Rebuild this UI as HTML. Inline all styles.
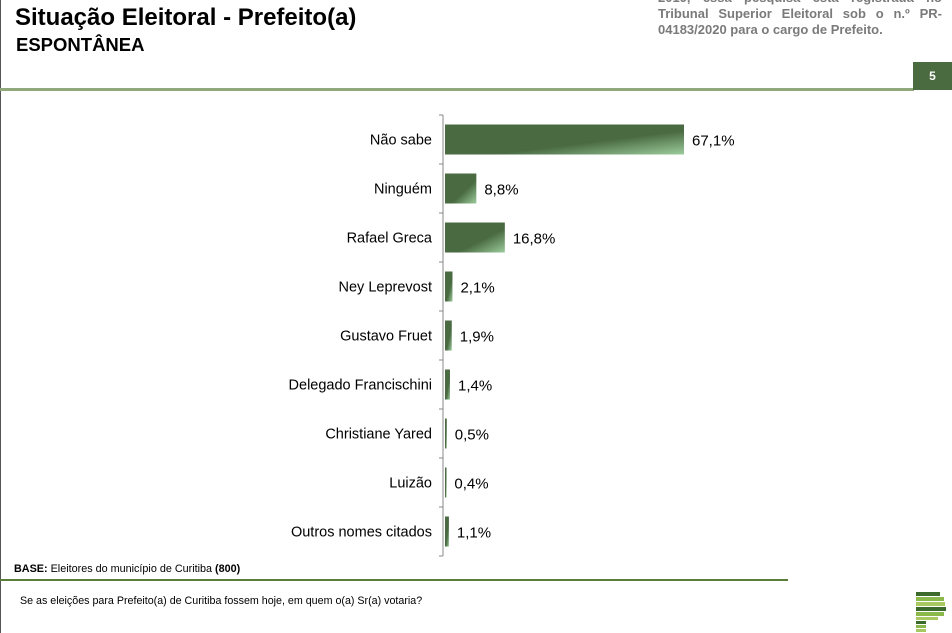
<!DOCTYPE html>
<html><head><meta charset="utf-8"><style>
body{margin:0;width:952px;height:633px;overflow:hidden;background:#fff;font-family:"Liberation Sans",sans-serif;position:relative}
.a{position:absolute}
</style></head><body>
<div class="a" style="left:0;top:0;width:1px;height:633px;background:#555"></div>
<div class="a" style="left:15px;top:4px;font-size:24px;font-weight:bold;color:#000">Situação Eleitoral - Prefeito(a)</div>
<div class="a" style="left:16px;top:34px;font-size:18.5px;font-weight:bold;color:#000">ESPONTÂNEA</div>
<div class="a" style="left:658px;top:-10px;width:284px;font-size:13px;font-weight:bold;color:#7a7a7a;text-align:justify;line-height:16px">2019, essa pesquisa está registrada no Tribunal Superior Eleitoral sob o n.º PR-04183/2020 para o cargo de Prefeito.</div>
<div class="a" style="left:0;top:88px;width:914px;height:3px;background:#8fa97c"></div>
<div class="a" style="left:913px;top:62px;width:39px;height:28px;background:#4a6a40;color:#fff;font-size:12px;font-weight:bold;text-align:center;line-height:28px">5</div>
<svg class="a" style="left:0;top:0" width="952" height="633">
<defs><linearGradient id="g" x1="0" y1="0" x2="1" y2="1"><stop offset="0.6" stop-color="#4a6a42"/><stop offset="1" stop-color="#9ccc9c"/></linearGradient></defs>
<g id="chart"></g>
</svg>
<div class="a" style="left:14px;top:563px;font-size:10.8px;color:#000"><b>BASE:</b> Eleitores do município de Curitiba <b>(800)</b></div>
<div class="a" style="left:0;top:579px;width:788px;height:2px;background:#5a7e3a"></div>
<div class="a" style="left:20px;top:595px;font-size:10.7px;color:#000">Se as eleições para Prefeito(a) de Curitiba fossem hoje, em quem o(a) Sr(a) votaria?</div>
<div class="a" style="left:916px;top:592px;width:32px;height:40px">
<div style="height:4px;width:24px;background:#3c6a2a;margin-bottom:1px"></div>
<div style="height:4px;width:28px;background:#8ab84a;margin-bottom:1px"></div>
<div style="height:4px;width:29px;background:#a8c860;margin-bottom:1px"></div>
<div style="height:4px;width:30px;background:#3c6a2a;margin-bottom:1px"></div>
<div style="height:4px;width:28px;background:#8ab84a;margin-bottom:1px"></div>
<div style="height:3px;width:22px;background:#a8c860;margin-bottom:1px"></div>
<div style="height:3px;width:10px;background:#3c6a2a;margin-bottom:1px"></div>
<div style="height:3px;width:10px;background:#8ab84a;margin-bottom:1px"></div>
<div style="height:3px;width:10px;background:#a8c860"></div>
</div>
<script>
const categories=["Não sabe","Ninguém","Rafael Greca","Ney Leprevost","Gustavo Fruet","Delegado Francischini","Christiane Yared","Luizão","Outros nomes citados"];
const values=[67.1,8.8,16.8,2.1,1.9,1.4,0.5,0.4,1.1];
const valueLabels=["67,1%","8,8%","16,8%","2,1%","1,9%","1,4%","0,5%","0,4%","1,1%"];
const NS="http://www.w3.org/2000/svg";
const g=document.getElementById('chart');
const x0=445,pxPer=239/67.1,top0=115,step=49,bh=30;
const xs=v=>x0+v*pxPer;
const yc=i=>top0+step*i+step/2;
function mk(t,a){const e=document.createElementNS(NS,t);for(const k in a)e.setAttribute(k,a[k]);g.appendChild(e);return e;}
const ax=mk('line',{x1:443,x2:443,y1:top0,y2:top0+step*categories.length,stroke:'#888','stroke-width':1});


for(let i=0;i<=categories.length;i++){const t=mk('line',{x1:439,x2:443,y1:top0+step*i,y2:top0+step*i,stroke:'#888'});

}
categories.forEach((c,i)=>{
const y=yc(i);
const b=mk('rect',{x:x0,y:y-bh/2,width:Math.max(xs(values[i])-x0,1.5),height:bh,fill:'url(#g)'});


const l=mk('text',{x:432,y:y+5,'text-anchor':'end','font-size':14.5,fill:'#000','font-family':'Liberation Sans, sans-serif'});l.textContent=c;


const v=mk('text',{x:xs(values[i])+8,y:y+6,'font-size':15,fill:'#000','font-family':'Liberation Sans, sans-serif'});v.textContent=valueLabels[i];


});
</script>
</body></html>
